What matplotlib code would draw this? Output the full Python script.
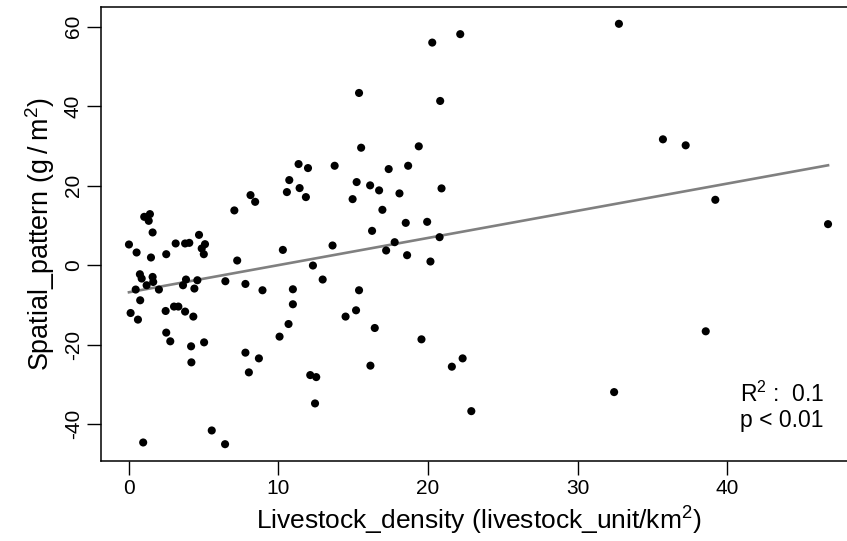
import numpy as np
import matplotlib
matplotlib.use("Agg")
import matplotlib.pyplot as plt

plt.rcParams['font.family'] = ['Liberation Sans', 'DejaVu Sans']
plt.rcParams['mathtext.fontset'] = 'custom'
plt.rcParams['mathtext.rm'] = 'Liberation Sans'
plt.rcParams['mathtext.it'] = 'Liberation Sans:italic'
plt.rcParams['axes.unicode_minus'] = False

livestock_density = [
    1.05, 1.43, 1.35, 1.61, 4.71, 7.07, 8.15, 8.46, 10.74, 10.58, 11.36, 11.43,
    0.03, 0.54, 1.50, 2.52, 3.15, 3.78, 4.06, 5.11, 4.89, 5.03, 7.26, 10.31,
    0.76, 0.88, 1.61, 1.65, 1.21, 0.48, 2.03, 0.78, 3.84, 3.64, 4.40, 4.60,
    6.47, 7.81, 8.95, 10.98, 10.98, 0.14, 0.63, 2.48, 3.04, 3.33, 3.78, 4.33,
    2.52, 2.79, 4.18, 5.05, 4.20, 7.81, 8.71, 8.04, 10.69, 10.09, 5.56, 6.45, 0.98,
    20.29, 22.16, 15.40, 20.82, 15.54, 19.39, 11.99, 13.77, 17.38, 18.68,
    11.85, 15.24, 16.14, 16.74, 18.10, 20.91, 14.97, 16.96, 16.27, 18.52, 19.95,
    13.63, 17.78, 17.21, 20.78, 18.61, 20.17, 12.32, 12.97, 15.40, 14.50, 15.20,
    16.45, 19.57, 12.14, 12.54, 12.46, 16.16, 21.60, 22.32, 22.90,
    32.76, 35.70, 37.22, 39.20, 46.73, 38.56, 32.44,
]
spatial_pattern = [
    12.17, 12.85, 11.16, 8.24, 7.63, 13.78, 17.63, 15.94, 21.41, 18.39, 25.44, 19.40,
    5.21, 3.20, 1.94, 2.77, 5.47, 5.47, 5.62, 5.29, 4.21, 2.77, 1.18, 3.85,
    -2.27, -3.35, -2.95, -4.21, -5.04, -6.12, -6.12, -8.82, -3.60, -5.04, -5.87, -3.78,
    -4.03, -4.71, -6.30, -6.05, -9.82, -12.02, -13.68, -11.51, -10.40, -10.40, -11.66, -12.92,
    -16.95, -19.14, -20.40, -19.40, -24.43, -21.99, -23.43, -26.95, -14.79, -17.96, -41.56, -45.01, -44.58,
    55.99, 58.11, 43.32, 41.31, 29.55, 29.90, 24.43, 25.01, 24.18, 25.01,
    17.13, 20.91, 20.08, 18.82, 18.06, 19.32, 16.62, 13.93, 8.64, 10.65, 10.91,
    4.96, 5.79, 3.70, 7.05, 2.52, 0.93, -0.08, -3.60, -6.30, -12.92, -11.34,
    -15.79, -18.64, -27.63, -28.14, -34.76, -25.26, -25.52, -23.43, -36.70,
    60.71, 31.66, 30.15, 16.45, 10.33, -16.62, -31.91,
]
x_ticks = [0, 10, 20, 30, 40]
y_ticks = [-40, -20, 0, 20, 40, 60]
stats_lines = ["R$^2$ :  0.1", "p < 0.01"]

x = np.array(livestock_density)
y = np.array(spatial_pattern)
slope, intercept = np.polyfit(x, y, 1)

fig = plt.figure(figsize=(8.47, 5.41), dpi=100)
ax = fig.add_axes([101 / 847, 80 / 541, 755 / 847, 454 / 541])

ax.scatter(x, y, s=34, color='black', edgecolors='none', zorder=3)
xl = np.array([x.min(), x.max()])
ax.plot(xl, intercept + slope * xl, color='#808080', lw=1.9, zorder=2)

xr = x.max() - x.min()
yr = y.max() - y.min()
ax.set_xlim(x.min() - 0.04 * xr, x.max() + 0.04 * xr)
ax.set_ylim(y.min() - 0.04 * yr, y.max() + 0.04 * yr)

ax.set_xticks(x_ticks)
ax.set_yticks(y_ticks)
ax.tick_params(direction='out', length=10, width=1.0, labelsize=15, pad=3)
for lab in ax.get_yticklabels():
    lab.set_rotation(90)
    lab.set_va('center')
for s in ax.spines.values():
    s.set_linewidth(1.1)

ax.set_xlabel("Livestock_density (livestock_unit/km$^2$)", fontsize=19, labelpad=5)
ax.set_ylabel("Spatial_pattern (g\u2009/\u2009m$^2$)", fontsize=19.4, labelpad=5)

ax.text(40.85, -34.5, stats_lines[0], fontsize=16.5, ha='left', va='baseline')
ax.text(40.85, -40.8, stats_lines[1], fontsize=16.5, ha='left', va='baseline')

fig.savefig("out.png", dpi=100)
